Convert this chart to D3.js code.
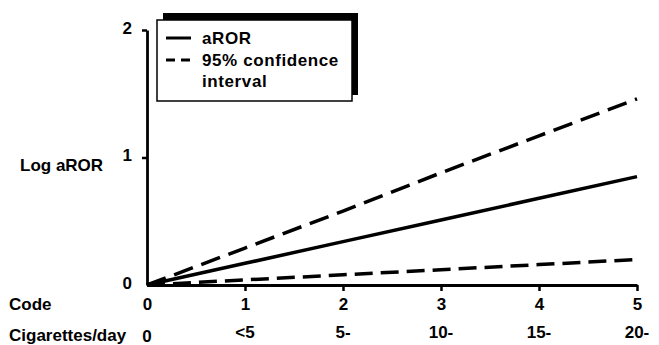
<!DOCTYPE html>
<html>
<head>
<meta charset="utf-8">
<script src="https://cdn.jsdelivr.net/npm/d3@7"></script>
<style>
  body { margin: 0; background: #fff; }
  text { font-family: "Liberation Sans", Arial, sans-serif; fill: #000; font-weight: bold; }
</style>
</head>
<body>
<svg></svg>
<script>
// values
var codes = [0, 1, 2, 3, 4, 5];
var cigLabels = ["0", "<5", "5-", "10-", "15-", "20-"];
var aror = [0, 0.17, 0.34, 0.51, 0.68, 0.85];
var upperCI = [0, 0.29, 0.58, 0.88, 1.17, 1.46];
var lowerCI = [0, 0.04, 0.08, 0.12, 0.16, 0.20];
var yTicks = [0, 1, 2];

var svg = d3.select("svg").attr("width", 659).attr("height", 345);

var x = d3.scaleLinear().domain([0, 5]).range([147, 637]);
var y = d3.scaleLinear().domain([0, 2]).range([285, 30]);

//Axes
var yAxis = svg.append("g")
  .attr("transform", "translate(" + x(0) + ",0)")
  .call(d3.axisLeft(y).tickValues(yTicks).tickSize(5).tickSizeOuter(0).tickPadding(10).tickFormat(d3.format("d")));
yAxis.select(".domain").attr("stroke-width", 2.8);
yAxis.selectAll(".tick line").attr("stroke-width", 2.5)
  .attr("opacity", function(d) { return d === 0 ? 0 : 1; });
yAxis.selectAll(".tick text").attr("font-size", 17).attr("dy", "0.2em")
  .attr("font-family", "Liberation Sans, Arial, sans-serif").attr("fill", "#000");

var xAxis = svg.append("g")
  .attr("transform", "translate(0," + y(0) + ")")
  .call(d3.axisBottom(x).tickValues(codes).tickSize(6).tickSizeOuter(0).tickPadding(7).tickFormat(d3.format("d")));
xAxis.select(".domain").attr("stroke-width", 2.8);
xAxis.selectAll(".tick line").attr("stroke-width", 2.5)
  .attr("opacity", function(d) { return d === 0 ? 0 : 1; });
xAxis.selectAll(".tick text").attr("font-size", 17)
  .attr("font-family", "Liberation Sans, Arial, sans-serif").attr("fill", "#000");

//Second row of x labels
svg.selectAll(".cig")
  .data(codes)
  .enter().append("text")
  .attr("class", "cig")
  .attr("x", function(d) { return x(d); })
  .attr("y", function(d) { return d === 0 ? 342 : 338; })
  .attr("text-anchor", "middle")
  .attr("font-size", 17)
  .text(function(d, i) { return cigLabels[i]; });

svg.append("text").attr("x", 9).attr("y", 310).attr("font-size", 17).text("Code");
svg.append("text").attr("x", 9).attr("y", 341).attr("font-size", 17).text("Cigarettes/day");
svg.append("text").attr("x", 20).attr("y", 171).attr("font-size", 17).text("Log aROR");

//Lines
var line = d3.line()
  .x(function(d, i) { return x(codes[i]); })
  .y(function(d) { return y(d); });

svg.append("path").datum(aror)
  .attr("d", line).attr("fill", "none").attr("stroke", "#000").attr("stroke-width", 3.5);
svg.append("path").datum(upperCI)
  .attr("d", line).attr("fill", "none").attr("stroke", "#000").attr("stroke-width", 3.5)
  .attr("stroke-dasharray", "20,9");
svg.append("path").datum(lowerCI)
  .attr("d", line).attr("fill", "none").attr("stroke", "#000").attr("stroke-width", 3.5)
  .attr("stroke-dasharray", "18,8");

//Legend
var lg = svg.append("g");
lg.append("rect").attr("x", 163).attr("y", 13).attr("width", 195).attr("height", 82).attr("fill", "#000");
lg.append("rect").attr("x", 157).attr("y", 20).attr("width", 195).attr("height", 81)
  .attr("fill", "#fff").attr("stroke", "#000").attr("stroke-width", 1.5);
lg.append("line").attr("x1", 166).attr("x2", 191).attr("y1", 38).attr("y2", 38)
  .attr("stroke", "#000").attr("stroke-width", 3);
lg.append("line").attr("x1", 166).attr("x2", 191).attr("y1", 60).attr("y2", 60)
  .attr("stroke", "#000").attr("stroke-width", 3).attr("stroke-dasharray", "9,6");
lg.append("text").attr("x", 202).attr("y", 44).attr("font-size", 17).attr("letter-spacing", 0.6).text("aROR");
lg.append("text").attr("x", 202).attr("y", 66).attr("font-size", 17).attr("letter-spacing", 0.6).text("95% confidence");
lg.append("text").attr("x", 202).attr("y", 87).attr("font-size", 17).attr("letter-spacing", 0.6).text("interval");
</script>
</body>
</html>
